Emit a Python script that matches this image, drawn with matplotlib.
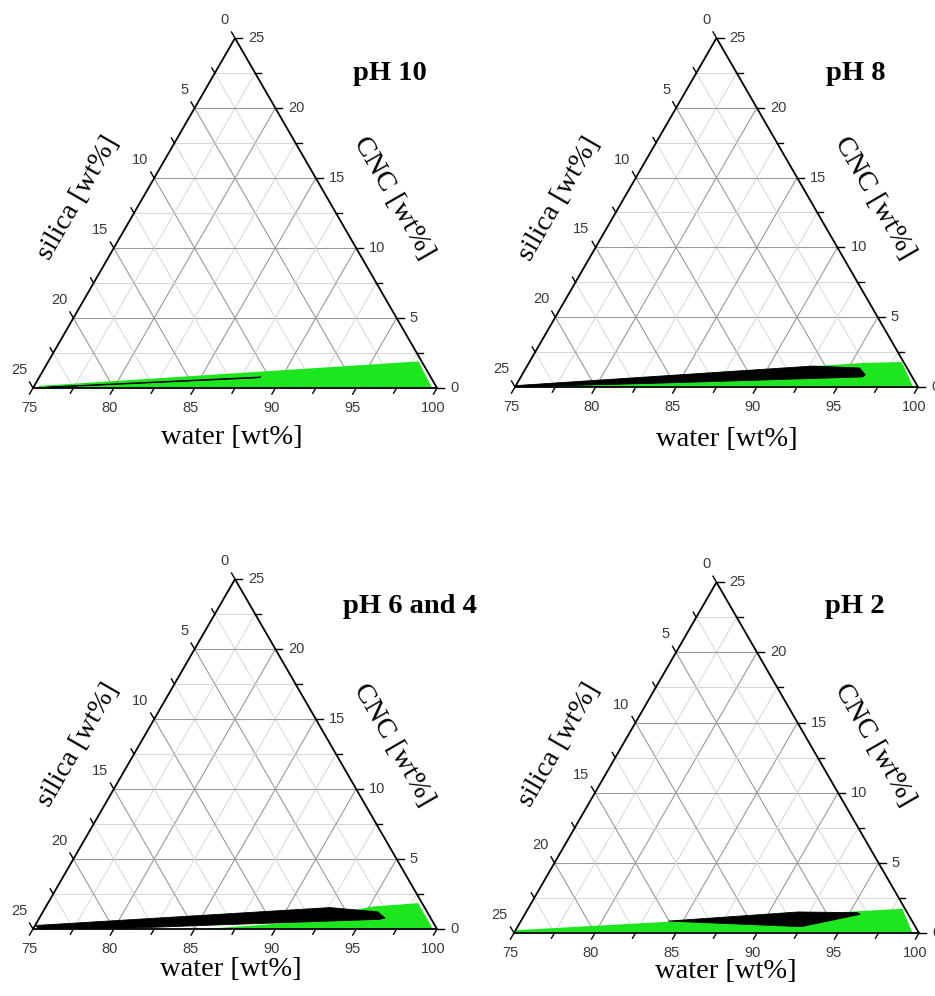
import numpy as np
import matplotlib
matplotlib.use("Agg")
import matplotlib.pyplot as plt

# phase regions: water [wt%] and CNC [wt%]
# (silica = 100 - water - CNC)
titles = ["pH 10", "pH 8", "pH 6 and 4", "pH 2"]

green_water_ph10 = [75.3, 99.7, 97.9, 75.3]
green_cnc_ph10 = [0.0, 0.0, 1.9, 0.15]
black_water_ph10 = [75.8, 88.7, 88.5, 75.8]
black_cnc_ph10 = [0.07, 0.79, 0.72, 0.03]

green_water_ph8 = [75.0, 99.7, 98.1, 95.7, 75.0]
green_cnc_ph8 = [0.0, 0.0, 1.79, 1.72, 0.1]
black_water_ph8 = [75.0, 92.7, 95.7, 96.3, 96.2, 84.2, 75.0]
black_cnc_ph8 = [0.1, 1.50, 1.36, 0.86, 0.72, 0.29, 0.0]

green_water_ph6 = [85.6, 99.75, 97.9, 95.1, 91.3]
green_cnc_ph6 = [0.0, 0.0, 1.85, 1.59, 0.5]
black_water_ph6 = [75.0, 92.6, 95.7, 96.4, 96.1, 86.0, 81.2, 75.4]
black_cnc_ph6 = [0.25, 1.53, 1.23, 0.78, 0.69, 0.28, 0.07, 0.0]

green_water_ph2 = [75.0, 99.6, 98.1, 75.0]
green_cnc_ph2 = [0.0, 0.0, 1.73, 0.2]
black_water_ph2 = [84.1, 91.8, 95.5, 95.7, 92.5]
black_cnc_ph2 = [0.85, 1.50, 1.45, 1.33, 0.45]

greens = [(green_water_ph10, green_cnc_ph10), (green_water_ph8, green_cnc_ph8),
          (green_water_ph6, green_cnc_ph6), (green_water_ph2, green_cnc_ph2)]
blacks = [(black_water_ph10, black_cnc_ph10), (black_water_ph8, black_cnc_ph8),
          (black_water_ph6, black_cnc_ph6), (black_water_ph2, black_cnc_ph2)]

water_ticks = [75, 80, 85, 90, 95, 100]
silica_ticks = [0, 5, 10, 15, 20, 25]
cnc_ticks = [0, 5, 10, 15, 20, 25]

S3 = np.sqrt(3) / 2
FW, FH = 935, 996
# left vertex x, bottom y, triangle width (pixels)
boxes = [(33, 388, 404), (515, 387, 403), (33, 929, 404), (514, 933, 405)]
# offsets of axis titles (pixels): water (dx, dy), silica/CNC dy
water_off = [(-3, -50), (10, -53), (-4, -40), (9, -38)]
side_dy = [15, 14, 9, 13]
ph_pos = [(427, 80, 'right'), (886, 80, 'right'), (343, 613, 'left'), (885, 613, 'right')]

serif = 'Liberation Serif'
sans = 'Liberation Sans'
green_c = '#1ee61e'


def tern(water, cnc):
    water = np.asarray(water, float)
    cnc = np.asarray(cnc, float)
    return (water - 75) / 25 + 0.5 * cnc / 25, cnc / 25 * S3


fig = plt.figure(figsize=(FW / 100, FH / 100), dpi=100)

for i, (x0, y0, w) in enumerate(boxes):
    ax = fig.add_axes([x0 / FW, 1 - y0 / FH, w / FW, w * S3 / FH])
    ax.set_xlim(0, 1)
    ax.set_ylim(0, S3)
    ax.axis('off')
    px = 1.0 / w

    # grid
    for v in np.arange(2.5, 25, 2.5):
        major = abs(v % 5) < 1e-9
        col = '#9a9a9a' if major else '#d6d6d6'
        lw = 0.8 if major else 0.7
        # constant CNC
        x, y = tern([75, 100 - v], [v, v])
        ax.plot(x, y, color=col, lw=lw, zorder=1)
        # constant water
        x, y = tern([75 + v, 75 + v], [0, 25 - v])
        ax.plot(x, y, color=col, lw=lw, zorder=1)
        # constant silica
        x, y = tern([75, 100 - v], [25 - v, 0])
        ax.plot(x, y, color=col, lw=lw, zorder=1)

    gw, gc = greens[i]
    x, y = tern(gw, gc)
    ax.fill(x, y, color=green_c, lw=0, zorder=2, clip_on=False)
    bw, bc = blacks[i]
    x, y = tern(bw, bc)
    ax.fill(x, y, facecolor='black', edgecolor='black', lw=0.6, zorder=3, clip_on=False)

    # frame
    x, y = tern([75, 100, 75, 75], [0, 0, 25, 0])
    ax.plot(x, y, color='black', lw=1.3, zorder=4, clip_on=False, solid_joinstyle='miter')

    # ticks
    for v in np.arange(0, 25.01, 2.5):
        L = (7 if abs(v % 5) < 1e-9 else 6) * px
        bx, by = tern(75 + v, 0)
        ax.plot([bx, bx - 0.5 * L], [by, by - S3 * L], color='black', lw=1.0, zorder=4, clip_on=False)
        rx, ry = tern(100 - v, v)
        ax.plot([rx, rx + L], [ry, ry], color='black', lw=1.0, zorder=4, clip_on=False)
        lx, ly = tern(75, 25 - v)
        ax.plot([lx, lx - 0.5 * L], [ly, ly + S3 * L], color='black', lw=1.0, zorder=4, clip_on=False)

    for t in water_ticks:
        ax.annotate(str(t), tern(t, 0), xytext=(-4, -20), textcoords='offset pixels',
                    ha='center', va='center', fontsize=10.5, family=sans, color='#3a3a3a')
    for t in silica_ticks:
        ax.annotate(str(t), tern(75, 25 - t), xytext=(-6, 18), textcoords='offset pixels',
                    ha='right', va='center', fontsize=10.5, family=sans, color='#3a3a3a')
    for t in cnc_ticks:
        ax.annotate(str(t), tern(100 - t, t), xytext=(13, 0), textcoords='offset pixels',
                    ha='left', va='center', fontsize=10.5, family=sans, color='#3a3a3a',
                    annotation_clip=False)

    # axis titles
    ax.annotate('water [wt%]', (0.5, 0), xytext=water_off[i], textcoords='offset pixels',
                ha='center', va='center', fontsize=20.5, family=serif)
    ax.annotate('silica [wt%]', (0.25, S3 / 2), xytext=(-56, side_dy[i]), textcoords='offset pixels',
                ha='center', va='center', rotation=60, rotation_mode='anchor',
                fontsize=20.5, family=serif)
    ax.annotate('CNC [wt%]', (0.75, S3 / 2), xytext=(57, side_dy[i]), textcoords='offset pixels',
                ha='center', va='center', rotation=-60, rotation_mode='anchor',
                fontsize=20.5, family=serif)

    tx, ty, ha = ph_pos[i]
    fig.text(tx / FW, 1 - ty / FH, titles[i], ha=ha, va='baseline',
             fontsize=20.5, fontweight='bold', family=serif)

fig.savefig('out.png', dpi=100)
